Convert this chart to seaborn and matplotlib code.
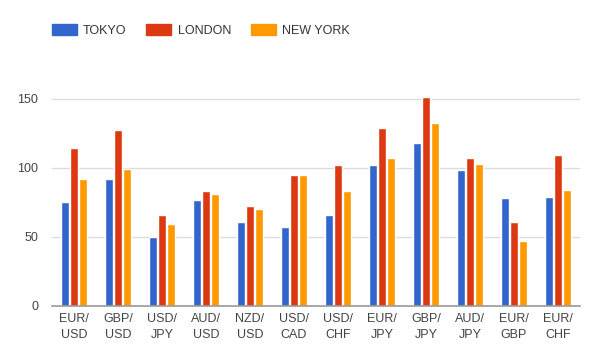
import matplotlib
matplotlib.use('Agg')
from matplotlib import pyplot as plt
from matplotlib import ticker
import pandas as pd
import seaborn as sns

pairs = ['EUR/\nUSD', 'GBP/\nUSD', 'USD/\nJPY', 'AUD/\nUSD', 'NZD/\nUSD', 'USD/\nCAD',
         'USD/\nCHF', 'EUR/\nJPY', 'GBP/\nJPY', 'AUD/\nJPY', 'EUR/\nGBP', 'EUR/\nCHF']
tokyo = [75, 92, 50, 77, 61, 57, 66, 102, 118, 98, 78, 79]
london = [114, 127, 66, 83, 72, 95, 102, 129, 151, 107, 61, 109]
new_york = [92, 99, 59, 81, 70, 95, 83, 107, 132, 103, 47, 84]
sessions = ['TOKYO', 'LONDON', 'NEW YORK']
colors = ['#3366cc', '#dc3912', '#ff9900']

df = pd.DataFrame({'pair': pairs * 3,
                   'session': [s for s in sessions for _ in pairs],
                   'value': tokyo + london + new_york})

sns.set_style('white')
plt.rcParams['font.family'] = ['Liberation Sans', 'DejaVu Sans']

fig = plt.figure(figsize=(6.02, 3.54), dpi=100)
ax = fig.add_axes([0.0864, 0.1356, 0.8771, 0.625])

sns.barplot(data=df, x='pair', y='value', hue='session', palette=colors,
            saturation=1, width=0.63, gap=0.1, ax=ax, legend=False)

ax.set_ylim(0, 160)
ax.set_xlim(-0.5, len(pairs) - 0.5)
ax.yaxis.set_major_locator(ticker.MultipleLocator(50))
ax.grid(axis='y', color='#dddddd', linewidth=1)
ax.set_axisbelow(True)
for s in ['top', 'right', 'left']:
    ax.spines[s].set_visible(False)
ax.spines['bottom'].set_color('#999999')
ax.spines['bottom'].set_linewidth(1.2)
ax.spines['bottom'].set_zorder(5)
ax.tick_params(axis='both', length=0, labelsize=9, labelcolor='#444444')
ax.tick_params(axis='y', pad=10)
ax.tick_params(axis='x', pad=5)
for lab in ax.get_xticklabels():
    lab.set_linespacing(1.5)
ax.set_xlabel('')
ax.set_ylabel('')

handles = [plt.Rectangle((0, 0), 1, 1, color=c) for c in colors]
fig.legend(handles, sessions, loc='upper left', bbox_to_anchor=(0.067, 0.964),
           ncol=3, frameon=False, fontsize=9, handlelength=2.0, handleheight=0.95,
           handletextpad=0.5, columnspacing=1.6, labelcolor='#333333')

plt.savefig('out.png', dpi=100)
